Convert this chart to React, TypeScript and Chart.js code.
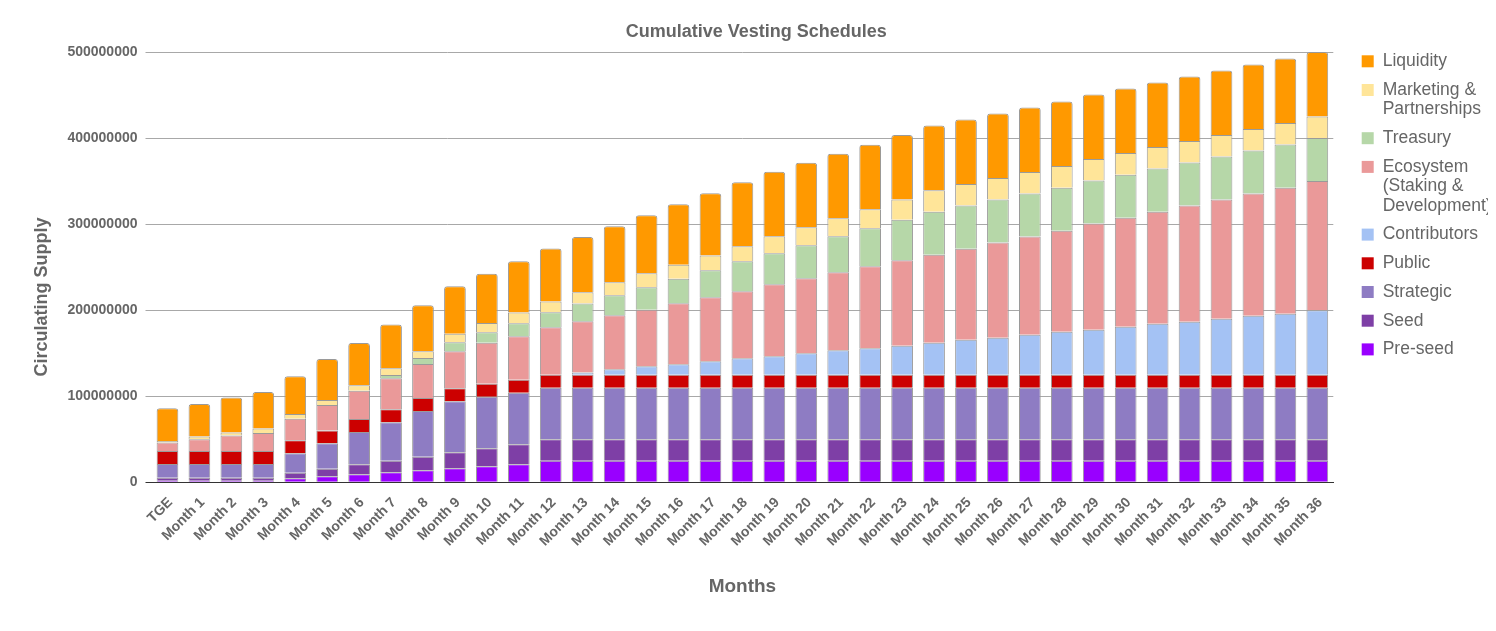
import React, { useEffect, useRef } from "react";
import { Chart, registerables } from "chart.js";

Chart.register(...registerables);

const FONT = '"Liberation Sans", Arial, Helvetica, sans-serif';
const TEXT = "#666666";

const categories = [
  "TGE", "Month 1", "Month 2", "Month 3", "Month 4", "Month 5", "Month 6", "Month 7", "Month 8",
  "Month 9", "Month 10", "Month 11", "Month 12", "Month 13", "Month 14", "Month 15", "Month 16",
  "Month 17", "Month 18", "Month 19", "Month 20", "Month 21", "Month 22", "Month 23", "Month 24",
  "Month 25", "Month 26", "Month 27", "Month 28", "Month 29", "Month 30", "Month 31", "Month 32",
  "Month 33", "Month 34", "Month 35", "Month 36",
];

// values in millions of tokens (cumulative per allocation)
const preSeed = [
  1.9, 1.9, 1.9, 1.9, 4.7, 7.0, 9.3, 11.6, 14.0, 16.3, 18.6, 20.9, 25,
  25, 25, 25, 25, 25, 25, 25, 25, 25, 25, 25, 25, 25, 25, 25, 25, 25, 25, 25, 25, 25, 25, 25, 25,
];
const seed = [
  3.5, 3.5, 3.5, 3.5, 6.5, 8.8, 11.6, 13.5, 15.8, 18.6, 20.9, 23.3, 25,
  25, 25, 25, 25, 25, 25, 25, 25, 25, 25, 25, 25, 25, 25, 25, 25, 25, 25, 25, 25, 25, 25, 25, 25,
];
const strategic = [
  16, 16, 16, 16, 22.6, 29.5, 37.6, 44.7, 53.1, 59.3, 60, 60, 60,
  60, 60, 60, 60, 60, 60, 60, 60, 60, 60, 60, 60, 60, 60, 60, 60, 60, 60, 60, 60, 60, 60, 60, 60,
];
const publicSale = [
  15, 15, 15, 15, 15, 15, 15, 15, 15, 15, 15, 15, 15,
  15, 15, 15, 15, 15, 15, 15, 15, 15, 15, 15, 15, 15, 15, 15, 15, 15, 15, 15, 15, 15, 15, 15, 15,
];
const contributors = [
  0, 0, 0, 0, 0, 0, 0, 0, 0, 0, 0, 0, 0,
  2.7, 6.3, 9.8, 12.1, 15.6, 19.1, 21.4, 24.9, 28.4, 30.7, 33.7, 37.2,
  40.7, 43, 46.5, 50, 52.3, 55.8, 59.3, 61.6, 65.1, 68.6, 70.9, 75,
];
const ecosystem = [
  9.8, 13.6, 17.9, 20.9, 24.9, 29.5, 33, 36, 39.5, 43, 47.7, 50.5, 55.1,
  59.3, 62.8, 65.8, 70.9, 74.4, 77.9, 83.7, 87.2, 90.7, 95.3, 99.2, 102.3,
  105.8, 110.5, 114, 117.4, 123.3, 126.7, 130.2, 134.9, 138.4, 141.9, 146.5, 150,
];
const treasury = [
  0, 0, 0, 0, 0, 0, 0, 3.9, 7, 10.5, 12.3, 15.1, 17.4,
  20.9, 23.3, 26, 28.6, 31.4, 34.9, 36, 38.4, 41.9, 44.2, 47.3, 50,
  50, 50, 50, 50, 50, 50, 50, 50, 50, 50, 50, 50,
];
const marketing = [
  1.9, 3.1, 3.5, 5.1, 5.8, 5.8, 6.2, 7.8, 7.8, 9.8, 10.5, 12.4, 12.6,
  12.8, 15.1, 16.3, 16.3, 17, 17.4, 19.8, 20.9, 20.9, 22.1, 23.3, 25,
  25, 25, 25, 25, 25, 25, 25, 25, 25, 25, 25, 25,
];
const liquidity = [
  38, 38, 40.7, 42.6, 43.7, 47.7, 49.3, 50.8, 53.5, 55.3, 57.4, 59.7, 61.6,
  64.4, 65.1, 67.4, 70.2, 72.6, 74.4, 75, 75, 75, 75, 75, 75,
  75, 75, 75, 75, 75, 75, 75, 75, 75, 75, 75, 75,
];

const seriesNames = [
  "Pre-seed", "Seed", "Strategic", "Public", "Contributors",
  "Ecosystem (Staking & Development)", "Treasury", "Marketing & Partnerships", "Liquidity",
];
const legendLines = [
  ["Pre-seed"], ["Seed"], ["Strategic"], ["Public"], ["Contributors"],
  ["Ecosystem", "(Staking &", "Development)"], ["Treasury"], ["Marketing &", "Partnerships"], ["Liquidity"],
];
const seriesColors = [
  "#9900ff", "#7e3fa6", "#8e7cc3", "#cc0000", "#a4c2f4",
  "#ea9999", "#b6d7a8", "#ffe599", "#ff9900",
];
const seriesData = [preSeed, seed, strategic, publicSale, contributors, ecosystem, treasury, marketing, liquidity];

const yMax = 500000000;
const yStep = 100000000;

const chartTitle = "Cumulative Vesting Schedules";
const xTitle = "Months";
const yTitle = "Circulating Supply";

const sideLegend = {
  id: "sideLegend",
  afterDraw(chart: any) {
    const { ctx, chartArea } = chart;
    ctx.save();
    ctx.font = `17.5px ${FONT}`;
    ctx.textBaseline = "middle";
    ctx.textAlign = "left";
    const boxX = chartArea.right + 28.4;
    let y = chartArea.top + 9.3;
    for (let i = seriesNames.length - 1; i >= 0; i--) {
      ctx.fillStyle = seriesColors[i];
      ctx.fillRect(boxX, y - 6, 12, 12);
      ctx.fillStyle = TEXT;
      legendLines[i].forEach((t, j) => ctx.fillText(t, boxX + 21, y + j * 19.5));
      y += (legendLines[i].length - 1) * 19.5 + 28.7;
    }
    ctx.restore();
  },
};

const yAxisTitle = {
  id: "yAxisTitle",
  afterDraw(chart: any) {
    const { ctx, chartArea } = chart;
    ctx.save();
    ctx.font = `bold 18px ${FONT}`;
    ctx.fillStyle = TEXT;
    ctx.textAlign = "center";
    ctx.textBaseline = "middle";
    ctx.translate(chartArea.left - 109.8, chartArea.top + 245);
    ctx.rotate(-Math.PI / 2);
    ctx.fillText(yTitle, 0, 0);
    ctx.restore();
  },
};

export default function App() {
  const canvasRef = useRef<HTMLCanvasElement | null>(null);

  useEffect(() => {
    if (!canvasRef.current) return;
    const chart = new Chart(canvasRef.current, {
      type: "bar",
      data: {
        labels: categories,
        datasets: seriesData.map((arr, i) => ({
          label: seriesNames[i],
          data: arr.map((v) => v * 1000000),
          backgroundColor: seriesColors[i],
          borderColor: "#9a9a9a",
          borderWidth: 1,
          borderSkipped: "start",
          borderRadius: i === seriesData.length - 1 ? 3 : 0,
          categoryPercentage: 1,
          barPercentage: 0.68,
          stack: "s",
        })),
      },
      options: {
        animation: false,
        responsive: true,
        maintainAspectRatio: false,
        layout: { padding: { left: 16.6, right: 0, top: 0, bottom: 0 } },
        plugins: {
          legend: { display: false },
          tooltip: { enabled: false },
          title: {
            display: true,
            text: chartTitle,
            color: TEXT,
            font: { family: FONT, size: 18, weight: "bold" },
            padding: { top: 13, bottom: 9.4 },
          },
        },
        scales: {
          x: {
            stacked: true,
            grid: { display: false },
            border: { display: true, color: "#333333", width: 1 },
            ticks: {
              color: TEXT,
              font: { family: FONT, size: 14, weight: "bold" },
              minRotation: 45,
              maxRotation: 45,
              autoSkip: false,
              padding: 4,
              labelOffset: 3,
            },
            title: {
              display: true,
              text: xTitle,
              color: TEXT,
              font: { family: FONT, size: 19, weight: "bold" },
              padding: { top: 0, bottom: 25.3 },
            },
            afterFit: (s: any) => {
              s.height = 140.7;
            },
          },
          y: {
            stacked: true,
            min: 0,
            max: yMax,
            grid: {
              color: (c: any) => (c.tick && c.tick.value === 0 ? "#333333" : "#a8a8a8"),
              tickLength: 6,
              drawTicks: true,
            },
            border: { display: false },
            ticks: {
              stepSize: yStep,
              color: TEXT,
              padding: 8,
              font: { family: FONT, size: 14, weight: "bold" },
              callback: (v: any) => String(v),
            },
            afterFit: (s: any) => {
              s.width = 126.9;
            },
          },
          y2: {
            position: "right",
            display: true,
            grid: { display: false },
            border: { display: false },
            ticks: { display: false },
            afterFit: (s: any) => {
              s.width = 154.7;
            },
          },
        },
      },
      plugins: [sideLegend, yAxisTitle],
    });
    return () => chart.destroy();
  }, []);

  return (
    <div style={{ position: "relative", width: "100%", height: "615px" }}>
      <canvas ref={canvasRef} />
    </div>
  );
}
